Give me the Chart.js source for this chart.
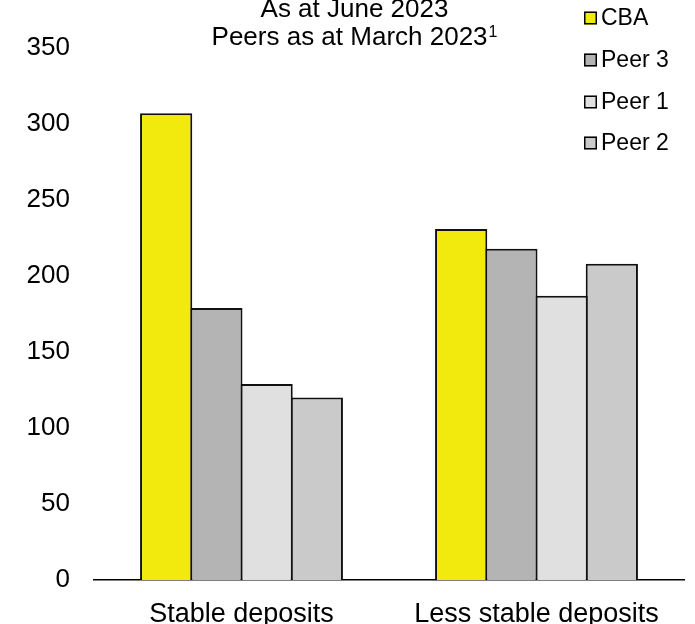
<!DOCTYPE html>
<html>
<head>
<meta charset="utf-8">
<script src="https://cdn.jsdelivr.net/npm/chart.js@4"></script>
<style>
html,body{margin:0;padding:0;background:#fff;}
#wrap{width:695px;height:624px;position:relative;}
</style>
</head>
<body>
<div id="wrap"><canvas id="c" width="695" height="624"></canvas></div>
<script>
const categories = ['Stable deposits', 'Less stable deposits'];
const seriesNames = ['CBA', 'Peer 3', 'Peer 1', 'Peer 2'];
const cba   = [307, 231];
const peer3 = [179, 218];
const peer1 = [129, 187];
const peer2 = [120, 208];
const yMin = 0, yMax = 350, yStep = 50;
const titleLine1 = 'As at June 2023';
const titleLine2 = 'Peers as at March 2023';
const titleSup = '1';

const colors = ['#F2EA0D', '#B4B4B4', '#E0E0E0', '#CACACA'];
const FONT = '"Liberation Sans", Arial, sans-serif';

const titleLegendPlugin = {
  id: 'titleLegend',
  afterDraw(chart) {
    const ctx = chart.ctx;
    ctx.save();
    ctx.fillStyle = '#000';
    // Title
    ctx.font = '26px ' + FONT;
    ctx.textBaseline = 'alphabetic';
    ctx.textAlign = 'center';
    const cx = 354.5;
    ctx.fillText(titleLine1, cx, 17);
    const w2 = ctx.measureText(titleLine2).width;
    ctx.font = '16px ' + FONT;
    const ws = ctx.measureText(titleSup).width;
    const start = cx - (w2 + ws + 1) / 2;
    ctx.textAlign = 'left';
    ctx.font = '26px ' + FONT;
    ctx.fillText(titleLine2, start, 45);
    ctx.font = '16px ' + FONT;
    ctx.fillText(titleSup, start + w2 + 1, 37);
    // Legend
    ctx.font = '23px ' + FONT;
    ctx.textBaseline = 'middle';
    const ys = [18, 60, 102, 143];
    chart.data.datasets.forEach((ds, i) => {
      const y = ys[i];
      ctx.fillStyle = ds.backgroundColor;
      ctx.fillRect(584, y - 6.5, 13, 13);
      ctx.strokeStyle = '#000';
      ctx.lineWidth = 1.5;
      ctx.strokeRect(584.75, y - 5.75, 11.5, 11.5);
      ctx.fillStyle = '#000';
      ctx.fillText(ds.label, 601, y + 1);
    });
    ctx.restore();
  }
};

const seriesData = [cba, peer3, peer1, peer2];

new Chart(document.getElementById('c'), {
  type: 'bar',
  data: {
    labels: categories,
    datasets: seriesNames.map((name, i) => ({
      label: name,
      data: seriesData[i],
      backgroundColor: colors[i],
      borderColor: '#111',
      borderWidth: 2,
      borderSkipped: 'start',
      categoryPercentage: 0.681,
      barPercentage: 1.04
    }))
  },
  options: {
    responsive: false,
    animation: false,
    layout: { padding: { top: 48, right: 11, left: 0, bottom: 0 } },
    plugins: {
      legend: { display: false },
      title: { display: false },
      tooltip: { enabled: false }
    },
    scales: {
      x: {
        grid: { display: false },
        border: { display: true, color: '#000', width: 1.5 },
        ticks: { color: '#000', font: { size: 27, family: FONT }, padding: 10, maxRotation: 0, autoSkip: false },
        afterFit(scale) { scale.height = 44; }
      },
      y: {
        min: yMin, max: yMax,
        grid: { display: false },
        border: { display: false },
        ticks: { stepSize: yStep, color: '#000', font: { size: 26, family: FONT }, padding: 16 },
        afterFit(scale) { scale.width = 94; }
      }
    }
  },
  plugins: [titleLegendPlugin]
});
</script>
</body>
</html>
